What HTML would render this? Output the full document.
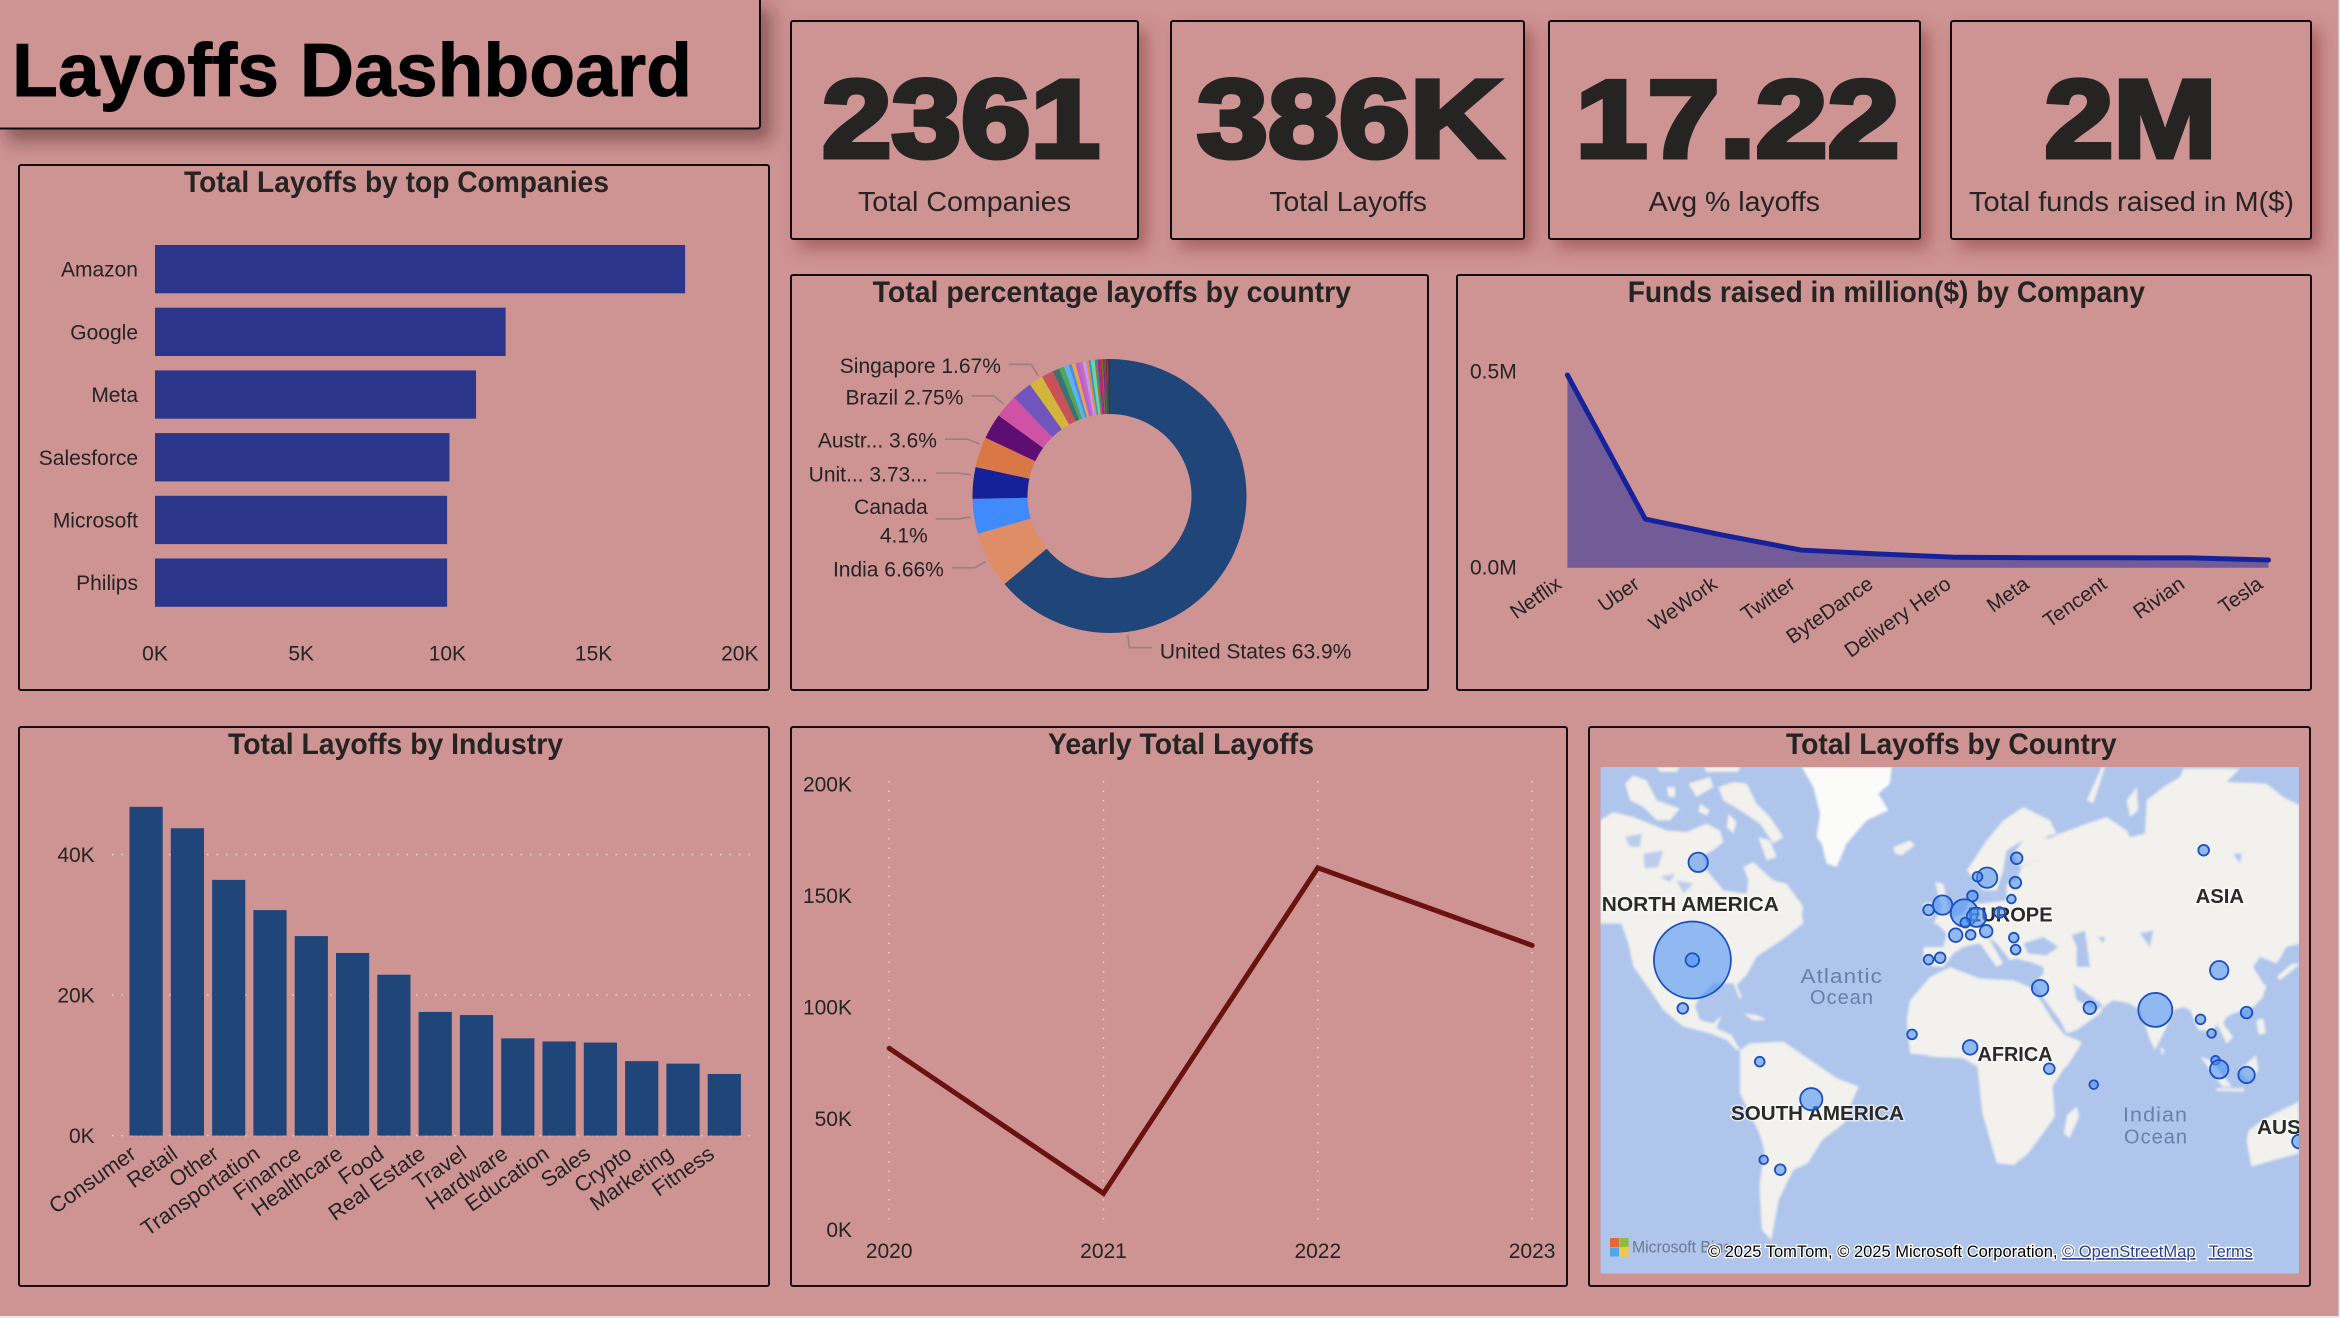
<!DOCTYPE html>
<html lang="en">
<head>
<meta charset="utf-8">
<title>Layoffs Dashboard</title>
<style>
html,body{margin:0;padding:0;background:#e9e9e9;width:2340px;height:1318px;overflow:hidden}
svg{display:block}
text{font-family:"Liberation Sans",Arial,sans-serif;fill:#252423}
.ptitle{font-size:30px;font-weight:bold}
.kpi{font-size:110px;font-weight:bold;stroke:#252423;stroke-width:5px}
.kpil{font-size:28px}
.tick{font-size:21px}
.cont{font-size:20px;font-weight:bold;fill:#2a2a2a;stroke:#fff;stroke-opacity:.55;stroke-width:3px;paint-order:stroke}
.ocean{font-size:20px;fill:#6a80a8;letter-spacing:1px}
.attr{font-size:16px;fill:#000;stroke:#fff;stroke-width:2.5px;paint-order:stroke}
</style>
</head>
<body>
<svg id="dash" xmlns="http://www.w3.org/2000/svg" width="2340" height="1318" viewBox="0 0 2340 1318">
<defs>
<filter id="shadowBig" x="-10%" y="-20%" width="125%" height="150%"><feDropShadow dx="10" dy="12" stdDeviation="9" flood-color="#4a2020" flood-opacity=".5"/></filter>
<filter id="shadowCard" x="-15%" y="-15%" width="135%" height="135%"><feDropShadow dx="8" dy="9" stdDeviation="8" flood-color="#8a3a3a" flood-opacity=".55"/></filter>
<filter id="mapBlur" x="-2%" y="-2%" width="104%" height="104%"><feGaussianBlur stdDeviation="1.2"/></filter>
<clipPath id="mapClip"><rect x="1600.5" y="767" width="698.5" height="506.5"/></clipPath>
</defs>

<rect x="0" y="0" width="2338.5" height="1316" fill="#ce9393"/>

<!-- Title -->
<g>
<rect x="-3" y="-3" width="763" height="131.5" rx="3" fill="#ce9393" stroke="#111" stroke-width="2" filter="url(#shadowBig)"/>
<text x="12" y="96" font-size="75" font-weight="bold" style="fill:#000;stroke:#000;stroke-width:.9px" textLength="680" lengthAdjust="spacingAndGlyphs">Layoffs Dashboard</text>
</g>

<!-- KPI cards -->
<g>
<rect x="791" y="21" width="347" height="218" rx="2" fill="#ce9393" stroke="#111" stroke-width="2" filter="url(#shadowCard)"/>
<text class="kpi" x="822" y="157" textLength="278" lengthAdjust="spacingAndGlyphs">2361</text>
<text class="kpil" x="858" y="211" textLength="213" lengthAdjust="spacingAndGlyphs">Total Companies</text>
</g>
<g>
<rect x="1171" y="21" width="353" height="218" rx="2" fill="#ce9393" stroke="#111" stroke-width="2" filter="url(#shadowCard)"/>
<text class="kpi" x="1197" y="157" textLength="305" lengthAdjust="spacingAndGlyphs">386K</text>
<text class="kpil" x="1269.5" y="211" textLength="157.5" lengthAdjust="spacingAndGlyphs">Total Layoffs</text>
</g>
<g>
<rect x="1549" y="21" width="371" height="218" rx="2" fill="#ce9393" stroke="#111" stroke-width="2" filter="url(#shadowCard)"/>
<text class="kpi" x="1575.5" y="157" textLength="324" lengthAdjust="spacingAndGlyphs">17.22</text>
<text class="kpil" x="1648.6" y="211" textLength="171.4" lengthAdjust="spacingAndGlyphs">Avg % layoffs</text>
</g>
<g>
<rect x="1951" y="21" width="360" height="218" rx="2" fill="#ce9393" stroke="#111" stroke-width="2" filter="url(#shadowCard)"/>
<text class="kpi" x="2044.5" y="157" textLength="172" lengthAdjust="spacingAndGlyphs">2M</text>
<text class="kpil" x="1969" y="211" textLength="325" lengthAdjust="spacingAndGlyphs">Total funds raised in M($)</text>
</g>

<!-- Panels -->
<g id="companies-panel">
<rect x="19" y="165" width="750" height="525" rx="2" fill="none" stroke="#111" stroke-width="2"/>
<text class="ptitle" x="184" y="192" textLength="425" lengthAdjust="spacingAndGlyphs">Total Layoffs by top Companies</text>
</g>
<g id="donut-panel">
<rect x="791" y="275" width="637" height="415" rx="2" fill="none" stroke="#111" stroke-width="2"/>
<text class="ptitle" x="872.6" y="302" textLength="478.4" lengthAdjust="spacingAndGlyphs">Total percentage layoffs by country</text>
</g>
<g id="funds-panel">
<rect x="1457" y="275" width="854" height="415" rx="2" fill="none" stroke="#111" stroke-width="2"/>
<text class="ptitle" x="1627.7" y="302" textLength="517.3" lengthAdjust="spacingAndGlyphs">Funds raised in million($) by Company</text>
</g>
<g id="industry-panel">
<rect x="19" y="727" width="750" height="559" rx="2" fill="none" stroke="#111" stroke-width="2"/>
<text class="ptitle" x="228" y="754" textLength="335" lengthAdjust="spacingAndGlyphs">Total Layoffs by Industry</text>
</g>
<g id="yearly-panel">
<rect x="791" y="727" width="776" height="559" rx="2" fill="none" stroke="#111" stroke-width="2"/>
<text class="ptitle" x="1048" y="754" textLength="266" lengthAdjust="spacingAndGlyphs">Yearly Total Layoffs</text>
</g>

<!-- Map -->
<g id="map-panel">
<rect x="1589" y="727" width="721" height="559" rx="2" fill="none" stroke="#111" stroke-width="2"/>
<text class="ptitle" x="1786" y="754" textLength="330.6" lengthAdjust="spacingAndGlyphs">Total Layoffs by Country</text>
<g clip-path="url(#mapClip)">
<rect x="1600.5" y="767" width="698.5" height="506.5" fill="#afc5ec"/>
<g filter="url(#mapBlur)">
<!-- Americas north, Greenland, Iceland -->
<g transform="translate(1600 767) scale(.3333)">
<g fill="#f2f1ed">
<polygon points="0,160 40,135 100,150 150,170 200,190 260,195 320,170 360,190 370,225 340,250 310,265 320,310 350,345 370,370 440,380 445,340 430,300 460,285 520,340 560,350 610,420 600,470 0,470"/>
<polygon points="75,50 100,25 140,40 170,100 240,125 210,160 170,160 130,120 90,100"/>
<polygon points="265,50 330,30 340,60 290,90"/>
<polygon points="300,110 330,130 320,145 295,135"/>
<polygon points="355,60 400,45 440,50 470,110 510,150 550,210 520,230 480,170 420,130 370,100"/>
<polygon points="385,140 410,165 400,200 380,180"/>
<polygon points="475,210 510,220 530,270 500,280"/>
<polygon points="200,60 225,60 225,90 205,90"/>
<polygon points="170,0 240,0 230,15 180,15"/>
<polygon points="310,0 420,0 415,15 320,15"/>
<polygon points="880,240 930,220 945,235 905,265 885,260"/>
</g>
<polygon fill="#fbfbfa" points="605,0 875,0 870,50 835,80 865,130 800,160 740,230 710,300 680,290 665,230 650,210 660,140 640,60"/>
<g fill="#bccdec">
<polygon points="75,210 125,200 120,240 90,240"/>
<polygon points="130,260 190,250 175,300 135,305"/>
<polygon points="230,340 280,350 250,380"/>
<polygon points="180,330 225,320 210,345"/>
</g>
</g>
<g transform="translate(1600 900) scale(.3333)">
<polygon fill="#f2f1ed" points="0,45 60,60 85,130 100,200 150,270 190,330 250,380 330,400 380,420 410,450 420,450 395,405 350,385 365,345 340,370 300,360 285,320 300,290 340,250 400,250 420,300 425,290 410,255 440,225 470,170 560,110 610,70 600,0 0,0"/>
<polygon fill="#f2f1ed" points="430,340 470,345 500,360 460,362"/>
</g>
<!-- Eurasia, north Africa -->
<g transform="translate(1900 767) scale(.3333)">
<g fill="#f2f1ed">
<polygon points="70,590 70,540 130,540 140,500 110,470 190,440 210,400 240,410 320,400 320,350 350,340 365,300 440,270 430,220 480,200 560,170 620,150 680,190 690,210 735,200 740,100 790,60 840,30 850,5 1020,5 980,45 1100,50 1150,90 1200,115 1200,530 1160,540 1130,590 1080,570 1060,600 1090,650 1090,690 1060,720 1000,740 980,750 970,770 1000,810 980,830 950,770 930,820 920,790 895,790 870,730 850,720 820,730 800,780 765,850 750,820 720,730 690,710 640,700 610,720 600,740 530,790 500,800 480,760 420,680 400,650 430,620 430,600 390,585 345,575 330,580 290,530 265,510 310,590 290,600 240,530 210,535 190,540 160,560 130,600 75,595"/>
<polygon points="200,310 260,220 310,160 370,120 450,160 470,200 420,215 370,220 320,250 310,310 290,370 250,370 225,340"/>
<polygon points="370,220 440,210 440,270 360,300 340,260"/>
<polygon points="105,345 130,350 150,440 165,470 100,470 125,420"/>
<polygon points="70,410 100,405 95,450 75,450"/>
<polygon points="560,100 605,0 615,0 580,110"/>
<polygon points="680,100 710,60 715,130 690,150"/>
<polygon points="1200,590 1190,600 1140,640 1130,630 1175,590"/>
<polygon points="1085,650 1100,655 1092,680"/>
<polygon points="780,840 795,850 785,865"/>
<polygon points="20,760 30,700 90,630 150,600 240,635 340,640 400,665 430,720 470,800 545,830 500,900 30,860"/>
</g>
<g fill="#afc5ec">
<polygon points="370,530 430,510 475,540 440,565 385,560"/>
<polygon points="515,505 555,490 570,600 530,600 530,540"/>
<polygon points="520,650 610,715 590,730 530,700"/>
<polygon points="720,500 760,490 750,540"/>
<polygon points="1000,260 1025,260 1020,290"/>
<polygon points="595,510 615,510 610,530"/>
</g>
</g>
<!-- South America, Africa south, Oceania -->
<g transform="translate(1580 720) scale(.4847 .3333)" fill="#f2f1ed">
<polygon points="330,990 350,970 420,965 480,1025 530,1075 575,1100 560,1150 545,1210 500,1260 470,1330 440,1350 410,1440 395,1560 375,1530 370,1400 380,1290 370,1240 330,1120 330,1050"/>
<polygon points="675,890 690,825 730,785 790,770 860,785 930,810 950,840 975,900 1000,945 1035,965 975,1100 980,1190 925,1300 895,1335 860,1330 830,1180 820,1040 790,1015 720,1010 680,960"/>
<polygon points="1025,1160 1030,1190 1010,1255 998,1240 1005,1185"/>
<polygon points="1280,1010 1300,1020 1345,1100 1325,1100"/>
<polygon points="1360,1050 1395,1005 1400,1050 1380,1085"/>
<polygon points="1310,1105 1370,1105 1370,1115 1315,1113"/>
<polygon points="1395,900 1410,895 1415,940 1400,945"/>
<polygon points="1380,1230 1420,1190 1483,1145 1483,1300 1385,1340 1375,1260"/>
</g>
</g>
<text class="cont" x="1601.8" y="911" textLength="177" lengthAdjust="spacingAndGlyphs">NORTH AMERICA</text>
<text class="cont" x="1967.8" y="921.7" textLength="84.8" lengthAdjust="spacingAndGlyphs">EUROPE</text>
<text class="cont" x="2195.6" y="903" textLength="48.4" lengthAdjust="spacingAndGlyphs">ASIA</text>
<text class="cont" x="1977.5" y="1061" textLength="75" lengthAdjust="spacingAndGlyphs">AFRICA</text>
<text class="cont" x="1731" y="1120" textLength="173" lengthAdjust="spacingAndGlyphs">SOUTH AMERICA</text>
<text class="cont" x="2257" y="1134" textLength="44" lengthAdjust="spacingAndGlyphs">AUS</text>
<text class="ocean" x="1800.5" y="983" textLength="82.5" lengthAdjust="spacingAndGlyphs">Atlantic</text>
<text class="ocean" x="1810" y="1004" textLength="64" lengthAdjust="spacingAndGlyphs">Ocean</text>
<text class="ocean" x="2123" y="1121.7" textLength="65" lengthAdjust="spacingAndGlyphs">Indian</text>
<text class="ocean" x="2124" y="1143.7" textLength="64" lengthAdjust="spacingAndGlyphs">Ocean</text>
<g id="map-bubbles"></g>
<g>
<rect x="1610" y="1238" width="9" height="9" fill="#e0693a"/>
<rect x="1619.5" y="1238" width="9" height="9" fill="#8fbb45"/>
<rect x="1610" y="1247.5" width="9" height="9" fill="#4ba6ea"/>
<rect x="1619.5" y="1247.5" width="9" height="9" fill="#f5c648"/>
</g>
<text x="1632" y="1252.5" font-size="17" style="fill:#6d7a90" textLength="100" lengthAdjust="spacingAndGlyphs">Microsoft Bing</text>
<text class="attr" x="1708" y="1257" style="font-size:17px" textLength="349.5" lengthAdjust="spacingAndGlyphs">© 2025 TomTom, © 2025 Microsoft Corporation,</text>
<text class="attr" x="2062" y="1257" style="fill:#2b3f88;font-size:17px" textLength="133.6" lengthAdjust="spacingAndGlyphs" text-decoration="underline">© OpenStreetMap</text>
<text class="attr" x="2208.7" y="1257" style="fill:#2b3f88;font-size:17px" textLength="44" lengthAdjust="spacingAndGlyphs" text-decoration="underline">Terms</text>
</g>
</g>
</svg>

<script>
/* ---------- chart data ---------- */
const companyNames = ['Amazon','Google','Meta','Salesforce','Microsoft','Philips'];
const companyLayoffs = [18130,11990,10980,10070,9990,9990];
const companyTicks = [0,5000,10000,15000,20000];
const companyTickLabels = ['0K','5K','10K','15K','20K'];

const countryShares = [63.9,6.66,4.1,3.73,3.6,3.0,2.75,2.4,1.67,1.4,0.8,0.6,0.6,0.35,0.45,0.45,0.4,0.4,0.3,0.25,0.45,0.15,0.2,0.25,0.2,0.15,0.2,0.15,0.15,0.12,0.17];
const countryColors = ['#1f4579','#de8d67','#418afb','#152196','#d97746','#5e0e73','#cf52a4','#7056bc','#d4b53c','#c95157','#3d7272','#4ba85b','#5bb4f0','#4a8ce8','#f0a24a','#b463cc','#c869c8','#c09bec','#d9923a','#3c8fc4','#63d8a8','#b06a30','#2f8f88','#b5218a','#c01f4f','#6a7a20','#7a2a90','#1f6a70','#8a2020','#2a6a3a','#3a3030'];
const countryLabels = [['United States 63.9%'],['India 6.66%'],['Canada','4.1%'],['Unit... 3.73...'],['Austr... 3.6%'],null,['Brazil 2.75%'],null,['Singapore 1.67%']];

const fundCompanies = ['Netflix','Uber','WeWork','Twitter','ByteDance','Delivery Hero','Meta','Tencent','Rivian','Tesla'];
const fundValues = [0.4916,0.124,0.083,0.045,0.035,0.0265,0.0255,0.0255,0.025,0.0196];
const fundTicks = [0,0.5];
const fundTickLabels = ['0.0M','0.5M'];

const industryNames = ['Consumer','Retail','Other','Transportation','Finance','Healthcare','Food','Real Estate','Travel','Hardware','Education','Sales','Crypto','Marketing','Fitness'];
const industryLayoffs = [46800,43750,36400,32100,28400,26000,22900,17600,17160,13840,13400,13240,10600,10240,8770];
const industryTicks = [0,20000,40000];
const industryTickLabels = ['0K','20K','40K'];

const years = ['2020','2021','2022','2023'];
const yearlyLayoffs = [81400,16300,162400,127600];
const yearlyTicks = [0,50000,100000,150000,200000];
const yearlyTickLabels = ['0K','50K','100K','150K','200K'];

const bubbleCountries = ['United States','United States (point)','Canada','Mexico','United Kingdom','Ireland','Netherlands','Germany','Belgium','Sweden','Norway','Finland','Estonia','Lithuania','Denmark','Poland','France','Switzerland','Austria','Romania','Bulgaria','Portugal','Spain','Israel','UAE','India','China','Myanmar','Hong Kong','Thailand','Russia','Senegal','Nigeria','Kenya','Seychelles','Colombia','Brazil','Chile','Argentina','Malaysia','Singapore','Indonesia','Australia'];
const bubbleLon = [-98,-98,-95.8,-101.65,-2.87,-8.2,5.4,10,5.76,14.05,10.4,25.3,24.8,23.3,8.5,18.8,2.1,7.8,13.7,24.2,24.9,-8.2,-3.8,34.2,53.1,78,102.3,95.2,112.7,99.4,96.4,-14.5,7.6,37.7,54.6,-72.4,-52.8,-70.9,-64.6,100.9,102.3,112.7,132.6];
const bubbleLat = [39,39,63.16,22.2,54.2,53,52.3,51.2,49.8,60.2,60.4,63.9,59.2,55.6,56.3,52.4,46.4,46.5,47.5,45.7,42.2,39.1,39.7,29.6,22.4,21.6,35.7,18,20.6,12.5,65.3,12.1,6.9,-1.75,-8.2,1.1,-14,-36.1,-39.3,1.66,-2,-4.3,-29.9];
const bubbleLayoffsK = [253,2.2,7.9,0.7,7.9,0.7,21,7.9,0.38,9.2,0.38,1.1,1.1,0.15,0.7,0.7,2.2,0.38,1.6,0.38,0.38,0.38,0.7,4.6,1.6,37.6,6.7,0.38,1.1,0.15,0.7,0.38,3,0.7,0.15,0.38,12,0.15,0.7,0.15,6.7,4.6,2.2];

/* ---------- helpers ---------- */
const SVGNS = 'http://www.w3.org/2000/svg';
function mk(tag, attrs, parent){
  const el = document.createElementNS(SVGNS, tag);
  for (const k in attrs) el.setAttribute(k, attrs[k]);
  parent.appendChild(el);
  return el;
}
function label(str, x, y, anchor, parent, extra){
  const t = mk('text', Object.assign({x:x, y:y, 'text-anchor':anchor, class:'tick'}, extra||{}), parent);
  t.textContent = str;
  return t;
}
const GRID = '#e2d6d6';

/* ---------- top companies ---------- */
(function(){
  const p = document.getElementById('companies-panel');
  const x = v => 155 + v * 146.2 / 5000;
  const y = i => 237.8 + i * 62.7;
  const band = 48.3, pad = (62.7 - 48.3) / 2;
  companyNames.forEach((n, i) => {
    const r = mk('rect', {x:x(0), y:y(i)+pad, width:x(companyLayoffs[i])-x(0), height:band, fill:'#2b368a'}, p);
    
    
    const t = label(n, 138, y(i)+pad+band/2+7.5, 'end', p);
    
    
  });
  companyTicks.forEach((v, i) => {
    const t = label(companyTickLabels[i], x(v), 660.7, 'middle', p);
    
    
  });
})();

/* ---------- donut ---------- */
(function(){
  const p = document.getElementById('donut-panel');
  const cx = 1109.5, cy = 496, R = 137, r0 = 82;
  const total = countryShares.reduce((a, b) => a + b, 0);
  const ang = s => s / total * 2 * Math.PI;
  const pt = (a, r) => [cx + r * Math.sin(a), cy - r * Math.cos(a)];
  const labelBias = [.75,.5,.5,.735,.74,.5,.5,.5,.8];
  let run = 0;
  countryShares.forEach((s, i) => {
    const a0 = ang(run), a1 = ang(run + s);
    const big = a1 - a0 > Math.PI ? 1 : 0;
    const A = pt(a0, R), B = pt(a1, R), C = pt(a1, r0), D = pt(a0, r0);
    const d = `M${A[0]} ${A[1]}A${R} ${R} 0 ${big} 1 ${B[0]} ${B[1]}L${C[0]} ${C[1]}A${r0} ${r0} 0 ${big} 0 ${D[0]} ${D[1]}Z`;
    const slice = mk('path', {d:d, fill:countryColors[i]}, p);
    
    
    const lab = countryLabels[i];
    if (lab) {
      const am = a0 + (a1 - a0) * labelBias[i];
      const S = pt(am, 140), E = pt(am, 153);
      const dir = Math.sin(am) >= 0 ? 1 : -1;
      const H = [E[0] + dir * 22.5, E[1]];
      const line = mk('polyline', {points:`${S[0]},${S[1]} ${E[0]},${E[1]} ${H[0]},${H[1]}`, fill:'none', stroke:'#9c7f7f', 'stroke-width':1.6}, p);
      
      
      const anchor = dir > 0 ? 'start' : 'end';
      const tx = H[0] + dir * 8;
      if (lab.length === 1) {
        const t = label(lab[0], tx, E[1] + (dir > 0 ? 11 : 8.5), anchor, p);
        
        
      } else {
        const t1 = label(lab[0], tx, E[1] - 5, anchor, p);
        
        
        const t2 = label(lab[1], tx, E[1] + 23.5, anchor, p);
        
        
      }
    }
    run += s;
  });
})();

/* ---------- funds area ---------- */
(function(){
  const p = document.getElementById('funds-panel');
  const x = i => 1567.4 + i * 77.9;
  const y = v => 567.7 - v * 392;
  fundTicks.forEach((v, i) => {
    const t = label(fundTickLabels[i], 1470, y(v) + 7, 'start', p);
    
    
  });
  const top = fundValues.map((v, i) => x(i) + ',' + y(v)).join(' ');
  const area = mk('polygon', {points:`${x(0)},${y(0)} ${top} ${x(fundValues.length-1)},${y(0)}`, fill:'#725c97'}, p);
  
  
  const line = mk('polyline', {points:top, fill:'none', stroke:'#16229b', 'stroke-width':5, 'stroke-linecap':'round', 'stroke-linejoin':'round'}, p);
  
  
  fundCompanies.forEach((n, i) => {
    const lx = x(i) - 4.5, ly = 587;
    const t = label(n, lx, ly, 'end', p, {transform:`rotate(-35 ${lx} ${ly})`, style:'font-size:20.5px'});
    
    
  });
})();

/* ---------- industry bars ---------- */
(function(){
  const p = document.getElementById('industry-panel');
  const x = i => 129.5 + i * 41.3;
  const y = v => 1135.6 - v * 0.007025;
  const w = 33.2;
  industryTicks.forEach((v, i) => {
    const g = mk('line', {x1:112, x2:754, y1:y(v), y2:y(v), stroke:GRID, 'stroke-width':1.5, 'stroke-dasharray':'1.5 8'}, p);
    
    
    const t = label(industryTickLabels[i], 94.7, y(v) + 7.5, 'end', p);
    
    
  });
  industryNames.forEach((n, i) => {
    const r = mk('rect', {x:x(i), y:y(industryLayoffs[i]), width:w, height:y(0)-y(industryLayoffs[i]), fill:'#1f4579'}, p);
    
    
    const lx = x(i) + w / 2 - 8.5, ly = 1157;
    const t = label(n, lx, ly, 'end', p, {transform:`rotate(-35 ${lx} ${ly})`, style:'font-size:21.7px'});
    
    
  });
})();

/* ---------- yearly line ---------- */
(function(){
  const p = document.getElementById('yearly-panel');
  const x = i => 889.2 + i * 214.3;
  const y = v => 1229.7 - v * 0.0022285;
  yearlyTicks.forEach((v, i) => {
    const t = label(yearlyTickLabels[i], 852, y(v) + 7.5, 'end', p);
    
    
  });
  years.forEach((yr, i) => {
    const g = mk('line', {x1:x(i), x2:x(i), y1:781, y2:1226, stroke:GRID, 'stroke-width':1.5, 'stroke-dasharray':'1.5 8'}, p);
    
    
    const t = label(yr, x(i), 1258, 'middle', p);
    
    
  });
  const pts = yearlyLayoffs.map((v, i) => x(i) + ',' + y(v)).join(' ');
  const line = mk('polyline', {points:pts, fill:'none', stroke:'#6a1210', 'stroke-width':5, 'stroke-linecap':'round', 'stroke-linejoin':'miter'}, p);
  
  
})();

/* ---------- map bubbles ---------- */
(function(){
  const p = document.getElementById('map-bubbles');
  const merc = lat => Math.log(Math.tan(Math.PI / 4 + lat * Math.PI / 360));
  const x = lon => 1692.4 + (lon + 98) * 2.63;
  const y = lat => 960 + (merc(39) - merc(lat)) * 141;
  const radius = k => 3.5 + 2.2 * Math.sqrt(k);
  bubbleCountries.forEach((n, i) => {
    const c = mk('circle', {cx:x(bubbleLon[i]), cy:y(bubbleLat[i]), r:radius(bubbleLayoffsK[i]), fill:'#4a90f5', 'fill-opacity':.58, stroke:'#1c4fc0', 'stroke-width':1.8}, p);
    
    
  });
})();
</script>
</body>
</html>
